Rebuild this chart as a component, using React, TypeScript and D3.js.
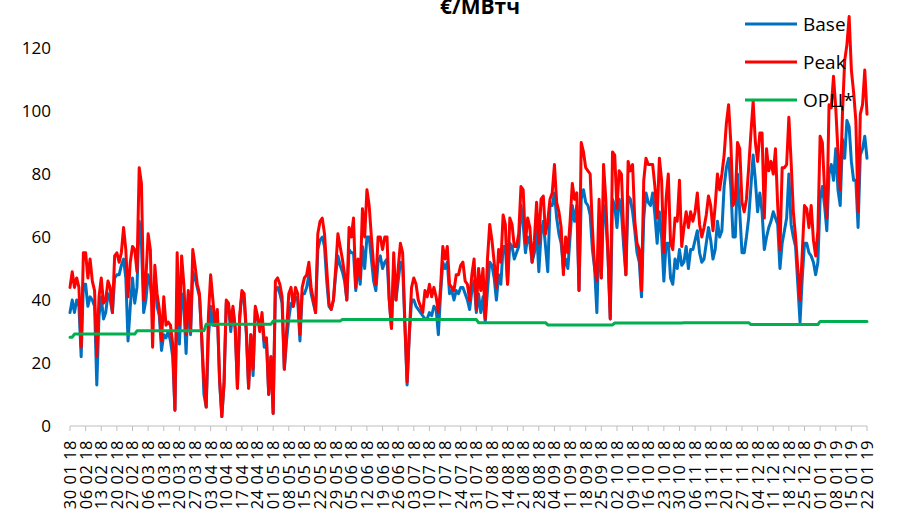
import React from "react";
import * as d3 from "d3";

const startDate = new Date(2018, 0, 30);
const dayCount = 358;
const tickEvery = 7;

const baseValues = [
36,40,36,40,38,22,45,45,38,41,40,38,13,35,41,34,36,42,40,36,
47,48,48,51,53,47,27,38,47,39,44,65,58,36,40,48,45,38,47,38,
35,24,29,28,30,27,22,5,43,26,42,38,23,42,29,49,47,44,41,28,
10,6,28,38,32,32,36,14,3,13,39,38,30,37,31,12,34,42,40,29,
12,29,16,37,34,32,34,25,27,10,22,4,43,44,42,39,18,27,34,39,
38,41,40,27,42,42,44,48,42,39,36,56,59,60,57,46,38,37,40,48,
54,51,49,46,40,56,55,55,43,51,45,57,50,60,60,53,46,43,52,54,
50,52,53,40,31,50,40,46,52,51,32,13,29,40,40,38,37,36,35,34,
34,36,35,38,37,29,42,52,50,52,42,43,40,43,42,44,44,42,40,37,
43,46,36,42,36,41,33,43,52,51,47,40,48,45,57,57,45,58,57,53,
55,57,70,64,55,60,58,52,55,62,49,61,65,57,49,70,70,74,66,61,
58,50,53,50,60,70,65,70,43,72,75,71,70,67,56,50,36,62,47,70,
66,54,34,72,70,63,72,68,57,48,73,72,68,62,55,52,41,66,74,71,
70,74,67,58,68,60,46,58,58,47,45,53,50,56,51,52,57,50,56,56,
59,62,55,52,53,58,63,59,53,56,65,60,62,76,82,85,76,60,60,80,
68,55,55,60,66,76,86,78,68,74,68,56,60,63,65,68,66,64,50,58,
62,66,80,64,60,57,45,33,47,58,58,55,54,52,48,52,72,76,70,62,
80,83,78,88,75,70,91,85,97,95,84,78,78,63,86,88,92,85
];

const peakValues = [
44,49,44,47,44,25,55,55,47,53,46,43,22,41,47,39,40,46,44,36,
54,55,52,55,63,56,41,52,57,56,49,82,77,40,47,61,56,25,51,42,
37,27,41,32,33,32,26,5,55,32,54,45,29,43,30,56,51,45,42,28,
14,6,35,48,40,32,37,15,3,14,40,39,32,38,31,12,35,43,42,30,
12,29,18,38,35,30,36,27,28,10,22,4,46,47,45,41,18,30,42,44,
38,44,42,29,44,47,48,52,44,40,36,61,65,66,61,50,39,37,40,50,
61,57,53,48,40,63,60,66,44,53,47,69,60,75,70,60,51,45,60,60,
56,60,60,40,31,55,40,50,58,55,33,14,30,44,47,45,40,38,36,43,
41,45,41,44,41,36,44,57,53,57,45,44,43,48,48,51,52,46,45,40,
48,53,37,50,43,50,34,53,64,59,52,44,56,52,67,64,45,66,64,57,
57,61,76,75,58,66,63,52,59,71,58,72,73,61,65,72,74,83,71,68,
63,48,60,55,65,77,72,74,43,90,87,82,81,80,63,50,46,72,47,83,
72,54,34,87,86,69,81,80,62,48,84,81,83,65,58,56,43,78,85,83,
83,83,76,66,85,78,55,72,80,58,56,66,65,78,57,63,68,63,68,65,
68,74,64,60,63,67,73,70,62,70,80,75,80,86,96,102,90,70,72,90,
88,71,68,72,82,93,103,90,84,93,93,66,88,81,84,80,88,70,56,82,
82,83,98,84,68,60,50,40,55,70,69,63,70,59,54,62,92,90,75,66,
102,101,111,101,87,75,99,116,121,130,113,106,97,68,99,102,113,99
];

// ОРЦ* monthly level, Jan 2018 .. Jan 2019
const orcMonthly = [28.2, 29.2, 30.2, 32.3, 33.3, 33.8, 33.8, 32.8, 32.1, 32.7, 32.8, 32.2, 33.2];

const yTicks = [0, 20, 40, 60, 80, 100, 120];
const seriesNames = ["Base", "Peak", "ОРЦ*"];
const seriesColors = ["#0070C0", "#FF0000", "#00B050"];
const titleText = "€/МВтч";

export default function App() {
  const W = 902;
  const H = 519;
  const dates = d3.range(dayCount).map((i) => d3.timeDay.offset(startDate, i));
  const fmt = d3.timeFormat("%d %m %y");
  const x = d3.scaleLinear().domain([0, dayCount - 1]).range([70, 867]);
  const y = d3.scaleLinear().domain([0, 120]).range([426, 48]);

  const orcValues = dates.map((dt) => {
    const idx = (dt.getFullYear() - 2018) * 12 + dt.getMonth();
    return orcMonthly[idx];
  });

  const line = d3
    .line<number>()
    .x((_, i) => x(i))
    .y((v) => y(v));

  const allSeries = [baseValues, peakValues, orcValues];
  const tickIdx = d3.range(0, dayCount, tickEvery);
  const font = "'Open Sans', 'Liberation Sans', sans-serif";

  return (
    <svg
      width={W}
      height={H}
      style={{ position: "absolute", left: 0, top: 0, background: "#fff" }}
      fontFamily={font}
    >
      <rect width={W} height={H} fill="#fff" />
      <text x={480} y={14} textAnchor="middle" fontWeight="bold" fontSize={21} fill="#000">
        {titleText}
      </text>
      {yTicks.map((t) => (
        <text key={t} x={51} y={y(t)} dy="0.35em" textAnchor="end" fontSize={17} fill="#000">
          {t}
        </text>
      ))}
      <line x1={x(0)} x2={x(dayCount - 1)} y1={y(0)} y2={y(0)} stroke="#bfbfbf" strokeWidth={1} />
      {tickIdx.map((i) => (
        <g key={i}>
          <line x1={x(i)} x2={x(i)} y1={y(0)} y2={y(0) + 5} stroke="#bfbfbf" strokeWidth={1} />
          <text
            transform={`translate(${x(i)},440) rotate(-90)`}
            textAnchor="end"
            dy="0.36em"
            fontSize={16.5}
            letterSpacing={0.5}
            fill="#000"
          >
            {fmt(dates[i])}
          </text>
        </g>
      ))}
      {allSeries.map((s, k) => (
        <path
          key={k}
          d={line(s as number[]) || ""}
          fill="none"
          stroke={seriesColors[k]}
          strokeWidth={3}
          strokeLinejoin="round"
          strokeLinecap="round"
        />
      ))}
      {seriesNames.map((n, k) => (
        <g key={n}>
          <line x1={745} x2={797} y1={24 + k * 38} y2={24 + k * 38} stroke={seriesColors[k]} strokeWidth={3} />
          <text x={803} y={24 + k * 38} dy="0.35em" fontSize={19} fill="#000">
            {n}
          </text>
        </g>
      ))}
    </svg>
  );
}
